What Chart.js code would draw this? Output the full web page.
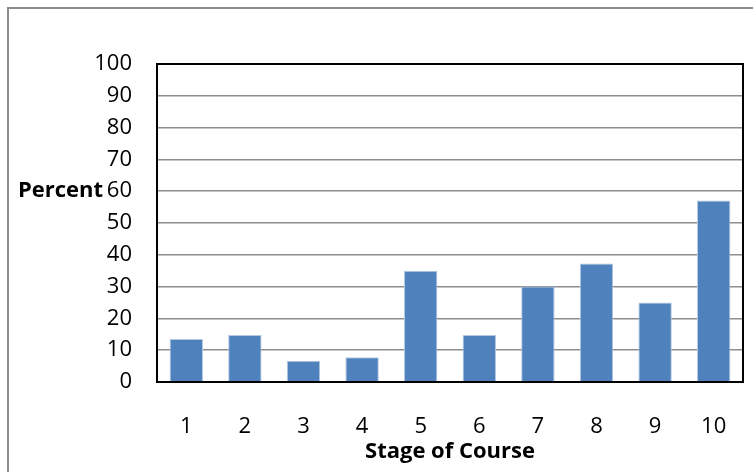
<!DOCTYPE html>
<html>
<head>
<meta charset="utf-8">
<script src="https://cdn.jsdelivr.net/npm/chart.js@4/dist/chart.umd.min.js"></script>
<style>
  html, body { margin: 0; padding: 0; background: #fff; overflow: hidden; }
  #frame { position: absolute; left: 7px; top: 7px; width: 800px; height: 520px; border: 2px solid #8c8c8c; box-sizing: border-box; }
  #wrap { position: absolute; left: 0; top: 0; width: 753px; height: 472px; }
</style>
</head>
<body>
<div id="frame"></div>
<div id="wrap"><canvas id="c" width="753" height="472"></canvas></div>
<script>
// Share of responses at each stage of the course
const stages = ['1', '2', '3', '4', '5', '6', '7', '8', '9', '10'];
const percentValues = [13.5, 14.8, 6.7, 7.8, 35, 14.8, 30, 37.3, 25, 57.1];
const yTicks = [0, 10, 20, 30, 40, 50, 60, 70, 80, 90, 100];
const yAxisLabel = 'Percent';
const xAxisLabel = 'Stage of Course';

const FONT = "'Open Sans', 'Liberation Sans', sans-serif";

// Black box round the plot area, plus the horizontal y-axis label
const framePlugin = {
  id: 'plotFrame',
  afterDraw(chart) {
    const { ctx, chartArea: a, scales } = chart;
    ctx.save();
    ctx.strokeStyle = '#000';
    ctx.lineWidth = 2;
    ctx.strokeRect(a.left, a.top, a.right - a.left, a.bottom - a.top);
    ctx.fillStyle = '#000';
    ctx.font = "bold 22px " + FONT;
    ctx.textAlign = 'left';
    ctx.textBaseline = 'middle';
    ctx.fillText(yAxisLabel, 18, scales.y.getPixelForValue(60));
    ctx.restore();
  }
};

new Chart(document.getElementById('c'), {
  type: 'bar',
  data: {
    labels: stages,
    datasets: [{
      data: percentValues,
      backgroundColor: '#4f81bd',
      borderColor: '#b4c8e2',
      borderWidth: 1,
      barPercentage: 0.57,
      categoryPercentage: 1.0
    }]
  },
  options: {
    responsive: false,
    animation: false,
    devicePixelRatio: 1,
    layout: { padding: { top: 64, right: 10, bottom: 0, left: 0 } },
    plugins: { legend: { display: false }, tooltip: { enabled: false } },
    scales: {
      x: {
        afterFit(scale) { scale.height = 90; scale.paddingLeft = 0; scale.paddingRight = 0; },
        grid: { display: false, drawTicks: false },
        border: { display: true, color: '#000', width: 2 },
        ticks: { color: '#000', padding: 32, font: { family: FONT, size: 22 }, maxRotation: 0 },
        title: { display: true, text: xAxisLabel, color: '#000', padding: { top: 0, bottom: 7 }, font: { family: FONT, size: 22, weight: 'bold' } }
      },
      y: {
        min: 0, max: 100,
        afterFit(scale) { scale.width = 157; },
        afterBuildTicks(scale) { scale.ticks = yTicks.map(v => ({ value: v })); },
        grid: { color: '#8e8e8e', lineWidth: 1.5, drawTicks: false },
        border: { display: true, color: '#000', width: 2 },
        ticks: { color: '#000', padding: 25, font: { family: FONT, size: 22 } }
      }
    }
  },
  plugins: [framePlugin]
});
</script>
</body>
</html>
